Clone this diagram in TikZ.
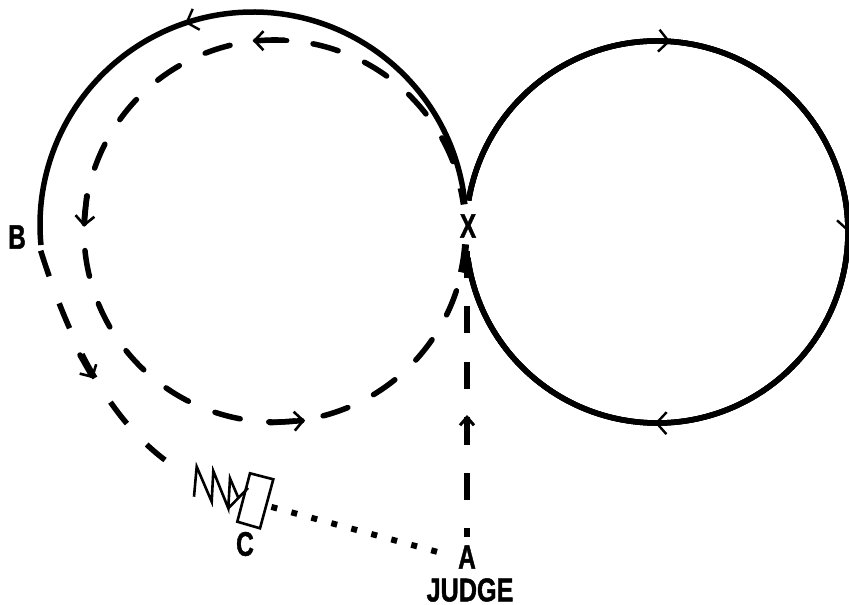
\documentclass[tikz,border=0pt]{standalone}
\usepackage{fontspec}
\setmainfont{Liberation Sans}[BoldFeatures={FakeBold=1.5}]
\usetikzlibrary{arrows.meta,decorations.markings}
\tikzset{
    > = {Straight Barb[length=10pt,width=22pt,line width=2.4pt]},
    track/.style = {line width = 5.5pt},
    tipped/.style = {postaction = {decorate, decoration = {markings,
        mark = at position #1 with {\arrow{>}}}}},
    rundash/.style = {line width = 5.5pt, line cap = round, dash pattern = on 26pt off 28.85pt},
    wide/.style = {line width = 5.5pt, dash pattern = on 27pt off 28.8pt},
    wedge/.style = {line width = 7pt},
    fat/.style = {line width = 5.5pt, line cap = round,
        arrows = {-Straight Barb[length=9pt,width=19pt,line width=2.6pt]}},
    spring/.style = {line width = 2.6pt},
    letter/.style = {font = \bfseries\fontsize{34pt}{34pt}\selectfont, xscale = 0.72, inner sep = 0pt}
}
\begin{document}
\begin{tikzpicture}[x=1pt,y=-1pt]
  \useasboundingbox (0,0) rectangle (849,605);
  \coordinate (r) at (657,232);
  \coordinate (l) at (253,225);
  \coordinate (d) at (275,231);
  \node[letter] (x) at (468,226) {X};
  \node[letter] (b) at (17,237) {B};
  \node[letter] (c) at (245,544) {C};
  \node[letter] (a) at (467,557) {A};
  \node[letter, font = \bfseries\fontsize{33pt}{33pt}\selectfont, xscale = 1.06] (judge) at (470,590) {JUDGE};
  % solid circles
  \foreach \pos in {0.2466,0.4975,0.762}
      \draw[track,tipped=\pos] (r) ++(-170.5:191) arc[start angle=-170.5,end angle=172.2,radius=191];
  \draw[track,tipped=0.57] (l) ++(-6.7:213) arc[start angle=-6.7,end angle=-185.4,radius=213];
  % dashed circle
  \draw[rundash] (d) ++(-21.35:191) arc[start angle=-21.35,end angle=-354.8,radius=191];
  \draw[wedge] (d) ++(-8:191) arc[start angle=-8,end angle=-13,radius=191];
  \draw[wedge] (d) ++(4:191) arc[start angle=4,end angle=12.5,radius=191];
  \draw[fat] (286.7,40.7) -- (252.7,40.7);
  \draw[fat] (86.7,196) -- (84,226.7);
  \draw[fat] (270,422.7) -- (305,420.5);
  % run from B to the spring
  \coordinate (bend) at (40.7,250.7);
  \coordinate (spr) at (165,460);
  \draw[wide] (bend) .. controls (72,350) and (112,420) .. (spr);
  \draw[fat] (80,355) -- (93.3,378.3);
  % judge line
  \coordinate (atop) at (467,537);
  \coordinate (xbot) at (467,248);
  \draw[line width = 5.5pt, dash pattern = on 27pt off 28.4pt, dash phase = 18pt] (atop) -- (xbot);
  \draw[line width = 5.5pt, arrows = {-Straight Barb[length=8pt,width=14pt,line width=3pt]}] (467,445) -- (467,415);
  % spring and box
  \coordinate (boxa) at (250,473.3);
  \coordinate (boxb) at (273.3,479.3);
  \coordinate (boxc) at (260,528.3);
  \coordinate (boxd) at (237.3,521.7);
  \draw[spring] (boxa) -- (boxb) -- (boxc) -- (boxd) -- cycle;
  \draw[spring] (194,496.7) -- (196.7,466.7) -- (211.7,501.7) -- (213.3,471) -- (228.3,508.3) -- (230,478.3) -- (238,497);
  \draw[spring] (228.3,508.3) -- (248,488);
  \coordinate (dot1) at (271.4,506.9);
  \coordinate (dot2) at (437,551.8);
  \draw[line width = 6pt, dash pattern = on 6pt off 14.7pt] (dot1) -- (dot2);
\end{tikzpicture}
\end{document}
